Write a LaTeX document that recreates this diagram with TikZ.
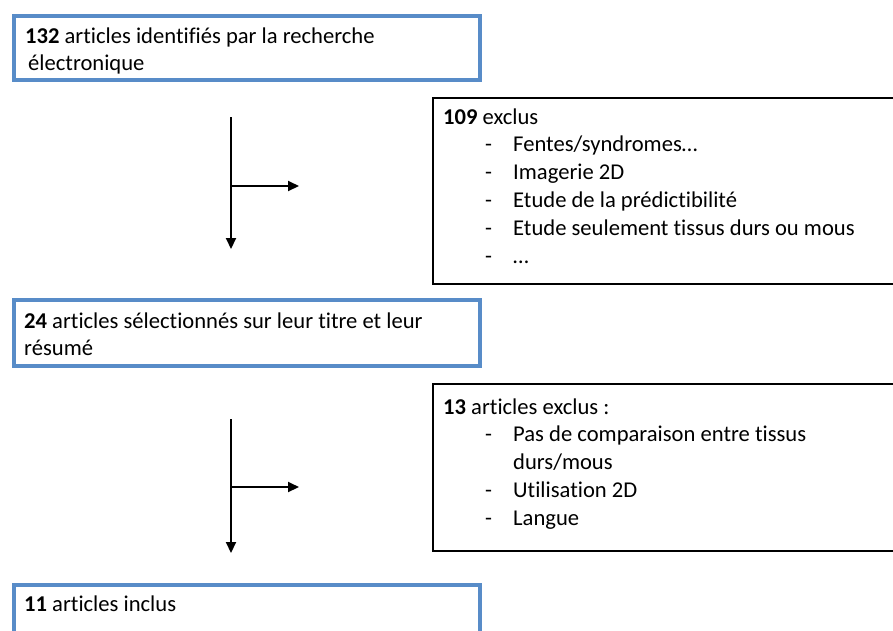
\documentclass[tikz,border=0pt]{standalone}
\usepackage{fontspec}
\setmainfont{Carlito}[Ligatures=NoCommon]
\usetikzlibrary{arrows.meta,fit}
\definecolor{boxblue}{RGB}{88,140,200}
\begin{document}
\begin{tikzpicture}[x=1pt,y=-1pt,
  bluebox/.style={draw=boxblue, line width=4pt, inner sep=0pt},
  blackbox/.style={draw=black, line width=2.5pt, inner sep=0pt},
  txt/.style={anchor=base west, inner sep=0pt, font=\fontsize{22.6pt}{27.8pt}\selectfont, text=black},
  arr/.style={line width=2pt, -{Triangle[length=11pt,width=10pt]}}]
\useasboundingbox (0,0) rectangle (893,630);
\fill[white] (0,0) rectangle (893,630);
% boxes
\node[bluebox, fit={(14,16) (480,80)}] (b1) {};
\node[blackbox, fit={(433,98) (905,284)}] (b2) {};
\node[bluebox, fit={(14,300) (480,366)}] (b3) {};
\node[blackbox, fit={(433,384) (905,551)}] (b4) {};
\node[bluebox, fit={(14,585) (480,660)}] (b5) {};
% texts
\node[txt] (t1) at (25,43) {\begin{tabular}[t]{@{}l@{}}\textbf{132} articles identifiés par la recherche\\ \hspace*{3pt}électronique\end{tabular}};
\node[txt] (t2) at (443,124) {\begin{tabular}[t]{@{}l@{}}\textbf{109} exclus\\
\hspace*{42pt}\makebox[28pt][l]{-}Fentes/syndromes…\\
\hspace*{42pt}\makebox[28pt][l]{-}Imagerie 2D\\
\hspace*{42pt}\makebox[28pt][l]{-}Etude de la prédictibilité\\
\hspace*{42pt}\makebox[28pt][l]{-}Etude seulement tissus durs ou mous\\
\hspace*{42pt}\makebox[28pt][l]{-}…\end{tabular}};
\node[txt] (t3) at (24,328) {\begin{tabular}[t]{@{}l@{}}\textbf{24} articles sélectionnés sur leur titre et leur\\ résumé\end{tabular}};
\node[txt] (t4) at (443,414) {\begin{tabular}[t]{@{}l@{}}\textbf{13} articles exclus :\\
\hspace*{42pt}\makebox[28pt][l]{-}Pas de comparaison entre tissus\\
\hspace*{70pt}durs/mous\\
\hspace*{42pt}\makebox[28pt][l]{-}Utilisation 2D\\
\hspace*{42pt}\makebox[28pt][l]{-}Langue\end{tabular}};
\node[txt] (t5) at (24,611) {\textbf{11} articles inclus};
% arrows
\coordinate (a1top) at (231,117);
\coordinate (a1mid) at (231,186);
\coordinate (a1bot) at (231,249);
\coordinate (a1end) at (299,186);
\draw[arr] (a1top) -- (a1bot);
\draw[arr] (a1mid) -- (a1end);
\coordinate (a2top) at (231,419);
\coordinate (a2mid) at (231,487);
\coordinate (a2bot) at (231,553);
\coordinate (a2end) at (299,487);
\draw[arr] (a2top) -- (a2bot);
\draw[arr] (a2mid) -- (a2end);
\end{tikzpicture}
\end{document}
